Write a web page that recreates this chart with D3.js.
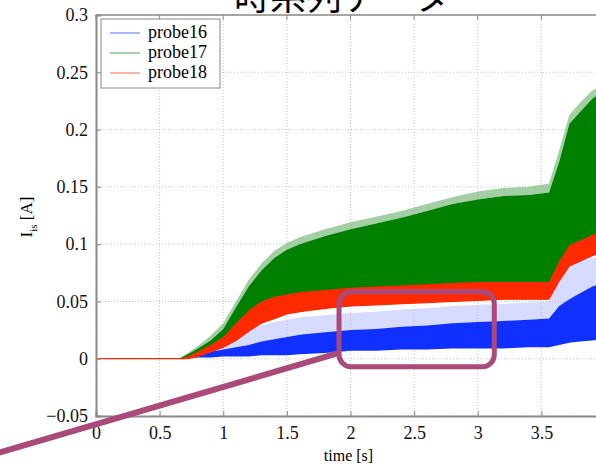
<!DOCTYPE html>
<html>
<head>
<meta charset="utf-8">
<script src="https://cdn.jsdelivr.net/npm/d3@7"></script>
<style>
  body { margin: 0; background: #fff; }
  svg { display: block; }
  .serif { font-family: "Liberation Serif", "Times New Roman", Times, "DejaVu Serif", serif; }
</style>
</head>
<body>
<div id="chart"></div>
<script>
// time samples [s] and envelopes
var time = [0, 0.65, 0.72, 0.8, 0.9, 1.0, 1.1, 1.2, 1.3, 1.4, 1.5, 1.6, 1.8, 2.0, 2.2, 2.4, 2.6, 2.8, 3.0, 3.2, 3.4, 3.56, 3.64, 3.72, 3.8, 3.9, 4.0];

var probe16Low   = [0, 0, 0, 0.001, 0.001, 0.002, 0.002, 0.002, 0.003, 0.003, 0.003, 0.004, 0.005, 0.007, 0.007, 0.008, 0.008, 0.009, 0.009, 0.009, 0.01, 0.01, 0.012, 0.014, 0.015, 0.016, 0.017];
var probe16High  = [0, 0, 0.002, 0.004, 0.006, 0.008, 0.01, 0.012, 0.015, 0.017, 0.019, 0.021, 0.023, 0.025, 0.026, 0.028, 0.029, 0.031, 0.032, 0.033, 0.034, 0.035, 0.046, 0.052, 0.057, 0.063, 0.067];
var probe16Spike = [0, 0, 0.003, 0.006, 0.01, 0.014, 0.02, 0.025, 0.029, 0.032, 0.034, 0.036, 0.038, 0.04, 0.041, 0.043, 0.044, 0.046, 0.047, 0.048, 0.049, 0.05, 0.07, 0.082, 0.085, 0.088, 0.09];

var probe17Low   = [0, 0, 0, 0.002, 0.006, 0.01, 0.016, 0.024, 0.031, 0.035, 0.039, 0.041, 0.044, 0.046, 0.047, 0.048, 0.049, 0.05, 0.051, 0.052, 0.052, 0.052, 0.068, 0.081, 0.085, 0.09, 0.094];
var probe17High  = [0, 0, 0.004, 0.009, 0.016, 0.026, 0.045, 0.063, 0.077, 0.088, 0.095, 0.1, 0.107, 0.113, 0.118, 0.123, 0.129, 0.135, 0.139, 0.142, 0.143, 0.145, 0.172, 0.205, 0.215, 0.227, 0.235];
var probe17Spike = [0, 0, 0.005, 0.011, 0.02, 0.031, 0.05, 0.069, 0.083, 0.094, 0.101, 0.106, 0.113, 0.119, 0.124, 0.129, 0.135, 0.141, 0.146, 0.149, 0.15, 0.153, 0.182, 0.213, 0.223, 0.234, 0.24];

var probe18Low   = [0, 0, 0, 0.002, 0.006, 0.01, 0.016, 0.024, 0.031, 0.035, 0.039, 0.041, 0.044, 0.046, 0.047, 0.048, 0.049, 0.05, 0.051, 0.052, 0.052, 0.052, 0.068, 0.081, 0.085, 0.09, 0.094];
var probe18High  = [0, 0, 0.002, 0.006, 0.012, 0.019, 0.031, 0.042, 0.05, 0.054, 0.056, 0.058, 0.06, 0.062, 0.063, 0.064, 0.065, 0.066, 0.067, 0.067, 0.067, 0.067, 0.085, 0.099, 0.103, 0.108, 0.112];

var seriesNames = ["probe16", "probe17", "probe18"];
var xTicks = [0, 0.5, 1, 1.5, 2, 2.5, 3, 3.5];
var yTicks = [-0.05, 0, 0.05, 0.1, 0.15, 0.2, 0.25, 0.3];

// highlighted region and pointer line (data units)
var boxT = [1.91, 3.13], boxV = [-0.007, 0.0585];
var pointerT = [-0.76, 1.91], pointerV = [-0.082, 0.005];

var colors = { probe16: "#1030ff", probe17: "#008000", probe18: "#ff2a00" };

var margin = {top: 15, left: 96},
    w = 509, h = 401;

var svg = d3.select("#chart").append("svg")
  .attr("width", 596)
  .attr("height", 465);

// title sits mostly above the frame, as in the source slide
svg.append("text")
  .attr("x", 342)
  .attr("y", 10)
  .attr("text-anchor", "middle")
  .style("font-family", "'Noto Sans CJK JP'")
  .style("font-size", "36px")
  .text("時系列データ");

var g = svg.append("g")
  .attr("transform", `translate(${margin.left},${margin.top})`);

var x = d3.scaleLinear().domain([0, 4]).range([0, w]);
var y = d3.scaleLinear().domain([-0.05, 0.3]).range([h, 0]);

// grid
g.selectAll(".vgrid").data(xTicks.concat([4]))
  .enter().append("line")
  .attr("x1", d => x(d)).attr("x2", d => x(d))
  .attr("y1", 0).attr("y2", h)
  .attr("stroke", "#c4c4c4").attr("stroke-dasharray", "1,2");
g.selectAll(".hgrid").data(yTicks)
  .enter().append("line")
  .attr("x1", 0).attr("x2", w)
  .attr("y1", d => y(d)).attr("y2", d => y(d))
  .attr("stroke", "#c4c4c4").attr("stroke-dasharray", "1,2");

var rows = time.map(function(t, i) {
  return {t: t, b0: probe16Low[i], b1: probe16High[i], bs: probe16Spike[i],
          g0: probe17Low[i], g1: probe17High[i], gs: probe17Spike[i],
          r0: probe18Low[i], r1: probe18High[i]};
});

function band(lo, hi) {
  return d3.area().x(d => x(d.t)).y0(d => y(d[lo])).y1(d => y(d[hi]));
}

g.append("path").datum(rows).attr("d", band("b1", "bs")).attr("fill", "#8a98ff").attr("opacity", 0.35);
g.append("path").datum(rows).attr("d", band("b0", "b1")).attr("fill", colors.probe16);
g.append("path").datum(rows).attr("d", band("g1", "gs")).attr("fill", "#5aa85a").attr("opacity", 0.55);
g.append("path").datum(rows).attr("d", band("g0", "g1")).attr("fill", colors.probe17);
g.append("path").datum(rows).attr("d", band("r0", "r1")).attr("fill", colors.probe18);
g.append("path").datum(rows)
  .attr("d", d3.line().x(d => x(d.t)).y(d => y(d.r0)))
  .attr("fill", "none").attr("stroke", colors.probe18).attr("stroke-width", 1.2);

// axes (MATLAB style box, inward ticks)
var axisColor = "#8a8a8a";
var xAxis = g.append("g").attr("transform", `translate(0,${h})`)
  .call(d3.axisBottom(x).tickValues(xTicks).tickSize(-5).tickPadding(10).tickFormat(d3.format("")));
var yAxis = g.append("g")
  .call(d3.axisLeft(y).tickValues(yTicks).tickSize(-5).tickPadding(8).tickFormat(d3.format("")));
g.append("line").attr("x1", 0).attr("x2", w).attr("y1", 0).attr("y2", 0)
  .attr("stroke", axisColor).attr("stroke-width", 1.5);
g.selectAll(".topTick").data(xTicks).enter().append("line")
  .attr("x1", d => x(d)).attr("x2", d => x(d)).attr("y1", 0).attr("y2", 5)
  .attr("stroke", axisColor);

[xAxis, yAxis].forEach(function(a) {
  a.attr("font-family", null).attr("font-size", null);
  a.select(".domain").attr("stroke", axisColor).attr("stroke-width", 2);
  a.selectAll(".tick line").attr("stroke", axisColor);
  a.selectAll("text")
    .attr("class", "serif")
    .style("font-size", "18px")
    .attr("fill", "#111");
});

g.append("text")
  .attr("class", "serif")
  .attr("x", w / 2 - 2)
  .attr("y", h + 45)
  .attr("text-anchor", "middle")
  .style("font-size", "16px")
  .text("time [s]");

var ylab = svg.append("text")
  .attr("class", "serif")
  .attr("transform", "translate(32,217) rotate(-90)")
  .attr("text-anchor", "middle")
  .style("font-size", "17px");
ylab.append("tspan").text("I");
ylab.append("tspan").attr("dy", 5).style("font-size", "11px").text("is");
ylab.append("tspan").attr("dy", -5).text(" [A]");

// legend
var legend = svg.append("g").attr("transform", "translate(101,19)");
legend.append("rect")
  .attr("width", 119).attr("height", 69)
  .attr("fill", "#fff").attr("stroke", "#8a8a8a");
var item = legend.selectAll(".item").data(seriesNames).enter().append("g")
  .attr("transform", (d, i) => `translate(0,${14 + i * 20})`);
item.append("line")
  .attr("x1", 9).attr("x2", 39)
  .attr("stroke", d => colors[d]).attr("stroke-opacity", 0.7);
item.append("text")
  .attr("class", "serif")
  .attr("x", 47).attr("y", 5)
  .style("font-size", "18px")
  .text(d => d);

// annotation
var markColor = "#aa4a7a";
g.append("line")
  .attr("x1", x(pointerT[0])).attr("y1", y(pointerV[0]))
  .attr("x2", x(pointerT[1])).attr("y2", y(pointerV[1]))
  .attr("stroke", markColor).attr("stroke-width", 6);
g.append("rect")
  .attr("x", x(boxT[0])).attr("y", y(boxV[1]))
  .attr("width", x(boxT[1]) - x(boxT[0]))
  .attr("height", y(boxV[0]) - y(boxV[1]))
  .attr("rx", 12)
  .attr("fill", "none").attr("stroke", markColor).attr("stroke-width", 5);
</script>
</body>
</html>
